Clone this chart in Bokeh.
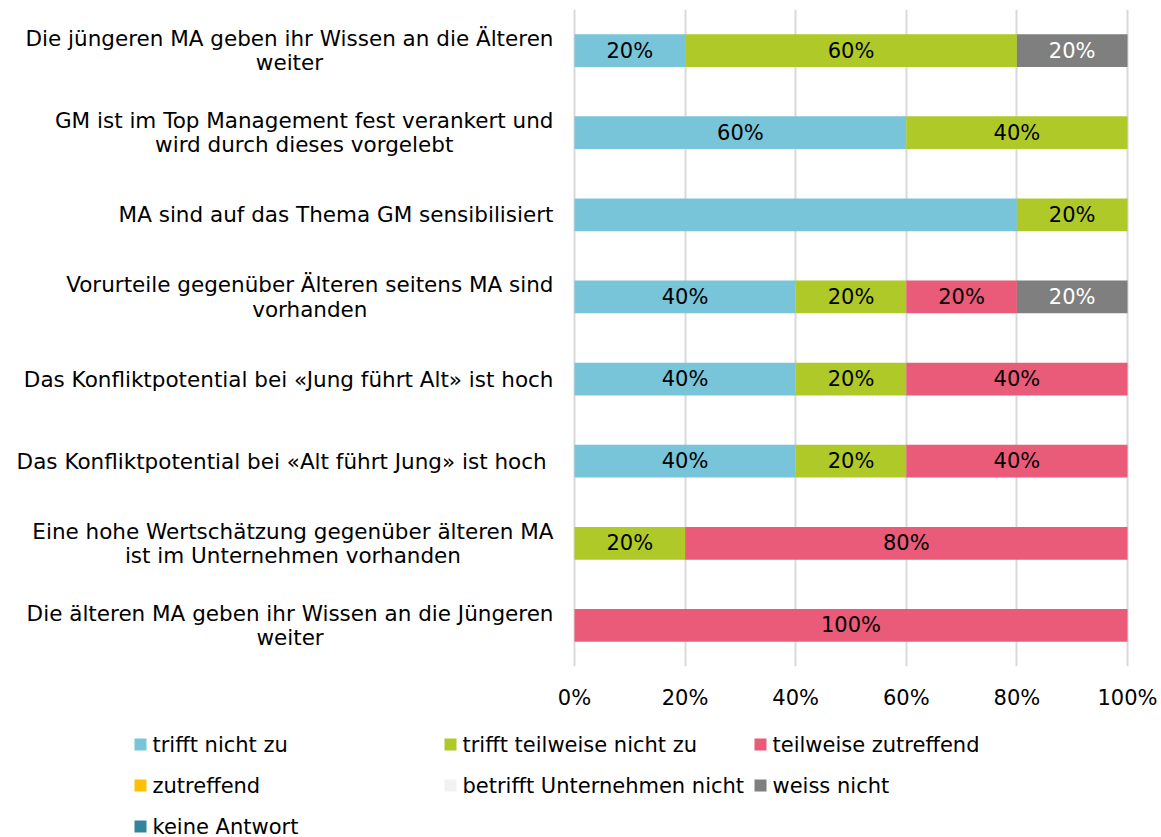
from bokeh.plotting import figure
from bokeh.layouts import column
from bokeh.models import FactorRange, Range1d, FixedTicker, ColumnDataSource
from bokeh.core.properties import value
from bokeh.embed import file_html
from bokeh.resources import INLINE

# ---------------- data ----------------
categories = [
    "Die jüngeren MA geben ihr Wissen an die Älteren\nweiter",
    "GM ist im Top Management fest verankert und\nwird durch dieses vorgelebt",
    "MA sind auf das Thema GM sensibilisiert",
    "Vorurteile gegenüber Älteren seitens MA sind\nvorhanden",
    "Das Konfliktpotential bei «Jung führt Alt» ist hoch",
    "Das Konfliktpotential bei «Alt führt Jung» ist hoch ",
    "Eine hohe Wertschätzung gegenüber älteren MA\nist im Unternehmen vorhanden",
    "Die älteren MA geben ihr Wissen an die Jüngeren\nweiter",
]

series_names = ["trifft nicht zu", "trifft teilweise nicht zu", "teilweise zutreffend",
                "zutreffend", "betrifft Unternehmen nicht", "weiss nicht", "keine Antwort"]
series_colors = ["#78C4D8", "#AFCA28", "#EA5B79", "#FFC000", "#F2F2F2", "#7F7F7F", "#31849B"]
label_colors = ["#000000", "#000000", "#000000", "#000000", "#000000", "#FFFFFF", "#FFFFFF"]

trifft_nicht_zu = [20, 60, 80, 40, 40, 40, 0, 0]
trifft_teilweise_nicht_zu = [60, 40, 20, 20, 20, 20, 20, 0]
teilweise_zutreffend = [0, 0, 0, 20, 40, 40, 80, 100]
zutreffend = [0, 0, 0, 0, 0, 0, 0, 0]
betrifft_nicht = [0, 0, 0, 0, 0, 0, 0, 0]
weiss_nicht = [20, 0, 0, 20, 0, 0, 0, 0]
keine_antwort = [0, 0, 0, 0, 0, 0, 0, 0]

series_values = [trifft_nicht_zu, trifft_teilweise_nicht_zu, teilweise_zutreffend,
                 zutreffend, betrifft_nicht, weiss_nicht, keine_antwort]

# data labels that are not shown in the original chart
hidden_labels = [("MA sind auf das Thema GM sensibilisiert", "trifft nicht zu")]

tick_values = [0, 20, 40, 60, 80, 100]
tick_labels = ["0%", "20%", "40%", "60%", "80%", "100%"]

# ---------------- main figure ----------------
FONT = "DejaVu Sans"
W = 1161
H1 = 712
x_px0 = 574.0       # screen x of 0 %
px_per_unit = 5.53  # pixels per percent

p = figure(
    width=W, height=H1, output_backend="svg", toolbar_location=None,
    y_range=FactorRange(factors=list(reversed(categories))),
    x_range=Range1d(-x_px0 / px_per_unit, (W - x_px0) / px_per_unit),
    min_border_left=0, min_border_right=0, min_border_top=9, min_border_bottom=44,
)
p.outline_line_color = None
p.background_fill_color = "white"
p.border_fill_color = "white"

keys = [f"s{i}" for i in range(len(series_names))]
data = {"cat": categories}
for k, vals in zip(keys, series_values):
    data[k] = vals
source = ColumnDataSource(data)

p.hbar_stack(keys, y="cat", height=0.4, fill_color=series_colors,
             line_color=None, source=source)

# data labels
lx, ly, lt, lc = [], [], [], []
for ci, cat in enumerate(categories):
    left = 0
    for si, name in enumerate(series_names):
        v = series_values[si][ci]
        if v > 0 and (cat, name) not in hidden_labels:
            lx.append(left + v / 2)
            ly.append(cat)
            lt.append(f"{v}%")
            lc.append(label_colors[si])
        left += v
p.text(x="x", y="y", text="t", text_color="c",
       source=ColumnDataSource(dict(x=lx, y=ly, t=lt, c=lc)),
       text_align="center", text_baseline="middle",
       text_font=value(FONT), text_font_size="21px")

# category labels (right aligned block, centered lines)
p.text(x=0, y="y", text="t", source=ColumnDataSource(dict(y=categories, t=categories)),
       x_offset=-21, anchor=value("center_right"), text_align="center",
       text_baseline="middle", text_line_height=0.97,
       text_font=value(FONT), text_font_size="21.5px", text_color="#000000")

# axes & grid
p.yaxis.visible = False
p.ygrid.grid_line_color = None
ax = p.xaxis[0]
ax.ticker = FixedTicker(ticks=tick_values)
ax.major_label_overrides = {v: l for v, l in zip(tick_values, tick_labels)}
ax.axis_line_color = None
ax.major_tick_line_color = None
ax.minor_tick_line_color = None
ax.major_label_standoff = 13
ax.major_label_text_font = FONT
ax.major_label_text_font_size = "21px"
ax.major_label_text_color = "#000000"
p.xgrid.ticker = FixedTicker(ticks=tick_values)
p.xgrid.grid_line_color = "#D9D9D9"
p.xgrid.grid_line_width = 2

# ---------------- legend figure ----------------
H2 = 125
lg = figure(width=W, height=H2, output_backend="svg", toolbar_location=None,
            x_range=Range1d(0, W), y_range=Range1d(H2, 0),
            min_border=0)
lg.axis.visible = False
lg.grid.visible = False
lg.outline_line_color = None
lg.background_fill_color = "white"
lg.border_fill_color = "white"

col_x0, col_dx = 140, 310   # legend grid in screen px
row_y0, row_dy = 32, 41
gx, gy = [], []
for i in range(len(series_names)):
    gx.append(col_x0 + (i % 3) * col_dx)
    gy.append(row_y0 + (i // 3) * row_dy)
leg_src = ColumnDataSource(dict(x=gx, y=gy, c=series_colors, t=series_names))
lg.rect(x="x", y="y", width=12, height=12, fill_color="c", line_color=None, source=leg_src)
lg.text(x="x", y="y", text="t", source=leg_src, x_offset=12, text_align="left",
        text_baseline="middle", text_font=value(FONT), text_font_size="21px",
        text_color="#000000")

layout = column(p, lg, spacing=0)
open("out.html", "w").write(file_html(layout, INLINE))
